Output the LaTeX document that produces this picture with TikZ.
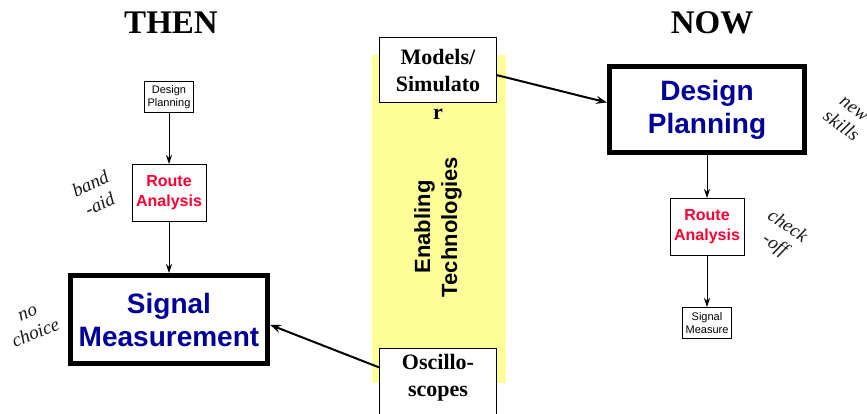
\documentclass[tikz,border=0pt]{standalone}
\usepackage{fontspec}
\setmainfont{Liberation Serif}
\setsansfont{Liberation Sans}
\usetikzlibrary{arrows.meta}
\definecolor{navy}{RGB}{0,0,153}
\definecolor{routered}{RGB}{255,0,51}
\definecolor{bandyellow}{RGB}{255,255,153}

\begin{document}
\begin{tikzpicture}[x=1pt, y=-1pt,
	smallbox/.style={shape=rectangle, draw=black, fill=white, line width=1pt, inner sep=0pt,
		minimum width=49pt, minimum height=31pt, align=center, font=\fontsize{11}{13}\selectfont\sffamily},
	routebox/.style={shape=rectangle, draw=black, fill=white, line width=1pt, inner sep=0pt,
		minimum width=74pt, minimum height=57pt, align=center, text=routered,
		font=\fontsize{16}{20}\selectfont\sffamily\bfseries},
	mainbox/.style={shape=rectangle, draw=black, fill=white, line width=5pt, inner sep=0pt,
		align=center, text=navy, font=\fontsize{28}{33}\selectfont\sffamily\bfseries},
	techbox/.style={shape=rectangle, draw=black, fill=white, line width=1pt, inner sep=0pt,
		minimum width=117pt, align=center, font=\fontsize{22}{27}\selectfont\bfseries},
	techlabel/.style={inner sep=0pt, align=center, font=\fontsize{22}{27}\selectfont\bfseries},
	notetext/.style={align=center, text=black!90, font=\fontsize{19}{22}\selectfont\itshape},
	titletext/.style={anchor=base, font=\fontsize{33}{40}\selectfont\bfseries},
	flow/.style={-{Stealth[length=9pt, width=6pt, inset=3pt]}, line width=1pt},
	feed/.style={-{Stealth[length=11pt, width=8pt, inset=4pt]}, line width=2pt}]
	\useasboundingbox (0,0) rectangle (867,413);
	\clip (0,0) rectangle (867,413);

	\fill[bandyellow] (372,55) rectangle (506,383);

	\node[titletext] (then) at (171,33) {THEN};
	\node[titletext] (now)  at (712,33) {NOW};

	\node[smallbox]                                        (dpL) at (169,97)    {Design\\Planning};
	\node[routebox]                                        (raL) at (169,193)   {Route\\Analysis};
	\node[mainbox, minimum width=197pt, minimum height=88pt] (smL) at (169,319.5) {Signal\\Measurement};

	\node[mainbox, minimum width=195pt, minimum height=86pt] (dpR) at (707,109.5) {Design\\Planning};
	\node[routebox]                                        (raR) at (707,227)   {Route\\Analysis};
	\node[smallbox]                                        (smR) at (707,323)   {Signal\\Measure};

	\node[techbox, minimum height=65pt,
		label={[techlabel, text height=16pt]below:r}]      (models) at (438,70) {Models/\\Simulato};
	\node[techbox, anchor=north, minimum height=83pt,
		label={[techlabel, yshift=12.5pt]center:{Oscillo-\\scopes}}] (osc) at (438,348) {};

	\node[rotate=90, align=center, font=\fontsize{22}{27}\selectfont\sffamily\bfseries]
		(enabling) at (438,227) {Enabling\\Technologies};

	\node[notetext, rotate=25]  (bandaid)   at (95,194)  {band\\-aid};
	\node[notetext, rotate=22]  (nochoice)  at (32,324)  {no\\choice};
	\node[notetext, rotate=-36] (newskills) at (847,118) {new\\skills};
	\node[notetext, rotate=-34] (checkoff)  at (781,236) {check\\-off};

	\path [flow] (dpL) edge (raL);
	\path [flow] (raL) edge (smL);
	\path [flow] (dpR) edge (raR);
	\path [flow] (raR) edge (smR);
	\path [feed] (osc.159)   edge (smL.-3);
	\path [feed] (models.-5) edge (dpR.176);
\end{tikzpicture}
\end{document}
